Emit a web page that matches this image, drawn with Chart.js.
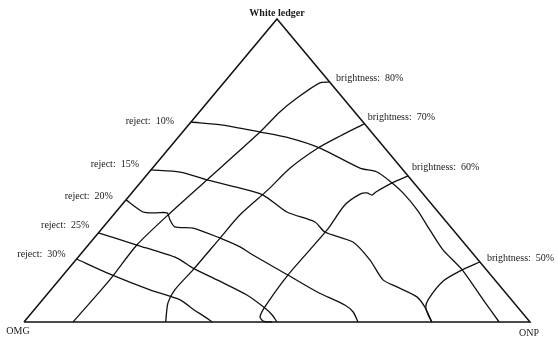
<!DOCTYPE html>
<html>
<head>
<meta charset="utf-8">
<script src="https://cdn.jsdelivr.net/npm/chart.js@4/dist/chart.umd.min.js"></script>
<style>
  html, body { margin: 0; padding: 0; background: #fff; }
  #c { display: block; }
</style>
</head>
<body>
<canvas id="c" width="558" height="340"></canvas>
<script>
// Ternary mixture diagram: OMG (bottom left), ONP (bottom right), White ledger (top).
// Every point is [ONP %, White ledger %]; the OMG share is the remainder.
const vertexNames = ['OMG', 'ONP', 'White ledger'];
const triangle = [[0, 0], [100, 0], [0, 100], [0, 0]];

// Iso-reject contours
const rejectLevels = ['10%', '15%', '20%', '25%', '30%'];
const reject10 = [[0, 66.0], [6.8, 65.0], [15.3, 62.7], [22.2, 60.7], [29.8, 57.4], [41.0, 50.8], [45.0, 49.5], [49.8, 45.9], [53.6, 42.6], [59.2, 37.0], [65.0, 30.4], [70.9, 23.8], [78.0, 17.2], [87.1, 7.3], [93.9, 0]];
const reject15 = [[0, 50.2], [6.1, 49.5], [12.7, 46.9], [19.4, 44.6], [26.3, 41.9], [33.8, 36.3], [41.0, 33.0], [44.6, 29.7], [51.8, 26.4], [58.1, 20.5], [64.0, 13.9], [67.9, 11.6], [73.5, 8.3], [76.7, 5.0], [79.6, 1.3], [80.6, 0]];
const reject20 = [[0, 40.3], [5.4, 36.3], [7.9, 36.0], [10.3, 36.0], [12.0, 33.7], [14.1, 31.4], [17.9, 31.0], [24.9, 27.7], [30.3, 24.8], [34.2, 22.1], [44.4, 15.5], [53.0, 9.9], [60.6, 5.6], [63.4, 3.3], [66.0, 0]];
const reject25 = [[0, 29.4], [9.6, 25.4], [19.7, 21.1], [24.5, 17.8], [31.2, 13.9], [39.6, 8.9], [45.3, 4.6], [47.9, 2.3], [50.0, 0]];
const reject30 = [[0, 20.8], [9.1, 15.8], [19.6, 10.6], [27.2, 7.3], [31.2, 4.3], [34.9, 1.7], [37.2, 0]];

// Iso-brightness contours
const brightnessLevels = ['80%', '70%', '60%', '50%'];
const bright80 = [[20.7, 79.2], [19.0, 78.9], [17.0, 73.9], [15.9, 69.3], [15.3, 62.7], [12.7, 46.9], [10.9, 36.0], [9.6, 25.4], [10.0, 13.9], [9.7, 0]];
const bright70 = [[34.5, 65.3], [31.8, 61.4], [29.4, 57.4], [27.2, 50.8], [26.4, 43.6], [25.0, 35.3], [24.9, 27.7], [24.8, 17.2], [24.5, 10.6], [25.3, 6.3], [28.0, 0]];
const bright60 = [[51.8, 48.2], [49.8, 45.9], [48.1, 42.9], [47.8, 41.9], [46.5, 42.6], [45.3, 42.2], [44.1, 38.6], [44.7, 30.4], [44.4, 15.5], [45.1, 5.0], [45.8, 1.7], [47.1, 0.3], [49.0, 0]];
const bright50 = [[80.2, 19.8], [78.0, 17.2], [76.1, 13.5], [76.2, 7.3], [77.1, 4.6], [79.2, 1.7], [80.6, 0]];

const rejectCurves = [reject10, reject15, reject20, reject25, reject30];
const brightCurves = [bright80, bright70, bright60, bright50];

// ternary [onp, wl] -> cartesian in a triangle with base 0..100 and apex at x=50, y=100
function toXY(p) { return { x: p[0] + p[1] / 2, y: p[1] }; }

function curve(points, width, tension) {
  return {
    data: points.map(toXY),
    showLine: true,
    borderColor: '#111',
    borderWidth: width,
    tension: tension,
    pointRadius: 0,
    fill: false,
    clip: false
  };
}

const datasets = [curve(triangle, 1.5, 0)]
  .concat(rejectCurves.map(c => curve(c, 1.3, 0.25)))
  .concat(brightCurves.map(c => curve(c, 1.3, 0.25)));

// label placement (pixel offsets from each curve's start on the triangle edge)
const rejectOffsets = [[-17, -1], [-12, -6], [-13, -4], [-9, -8], [-11, -5]];
const brightOffsets = [[7, -4], [4, -7], [4, -9], [7, -4]];
const FONT = '"Liberation Serif", "Times New Roman", serif';

const labelPlugin = {
  id: 'ternaryLabels',
  afterDatasetsDraw(chart) {
    const { ctx, scales: { x, y } } = chart;
    const px = p => { const q = toXY(p); return [x.getPixelForValue(q.x), y.getPixelForValue(q.y)]; };
    ctx.save();
    ctx.fillStyle = '#1a1a1a';
    ctx.textBaseline = 'middle';
    ctx.font = '10px ' + FONT;

    ctx.textAlign = 'right';
    rejectCurves.forEach((c, i) => {
      const [ax, ay] = px(c[0]);
      ctx.fillText('reject:  ' + rejectLevels[i], ax + rejectOffsets[i][0], ay + rejectOffsets[i][1]);
    });

    ctx.textAlign = 'left';
    brightCurves.forEach((c, i) => {
      const [ax, ay] = px(c[0]);
      ctx.fillText('brightness:  ' + brightnessLevels[i], ax + brightOffsets[i][0], ay + brightOffsets[i][1]);
    });

    ctx.textAlign = 'center';
    const [ox, oy] = px(triangle[0]);
    const [nx, ny] = px(triangle[1]);
    const [wx, wy] = px(triangle[2]);
    ctx.fillText(vertexNames[0], ox - 6, oy + 9);
    ctx.fillText(vertexNames[1], nx - 1, ny + 11);
    ctx.font = 'bold 10px ' + FONT;
    ctx.fillText(vertexNames[2], wx, wy - 6);
    ctx.restore();
  }
};

new Chart(document.getElementById('c'), {
  type: 'scatter',
  data: { datasets },
  options: {
    responsive: false,
    animation: false,
    devicePixelRatio: 1,
    layout: { padding: 0 },
    scales: {
      x: { type: 'linear', min: -4.74, max: 105.53, display: false },
      y: { type: 'linear', min: -5.94, max: 106.27, display: false }
    },
    plugins: { legend: { display: false }, tooltip: { enabled: false } }
  },
  plugins: [labelPlugin]
});
</script>
</body>
</html>
